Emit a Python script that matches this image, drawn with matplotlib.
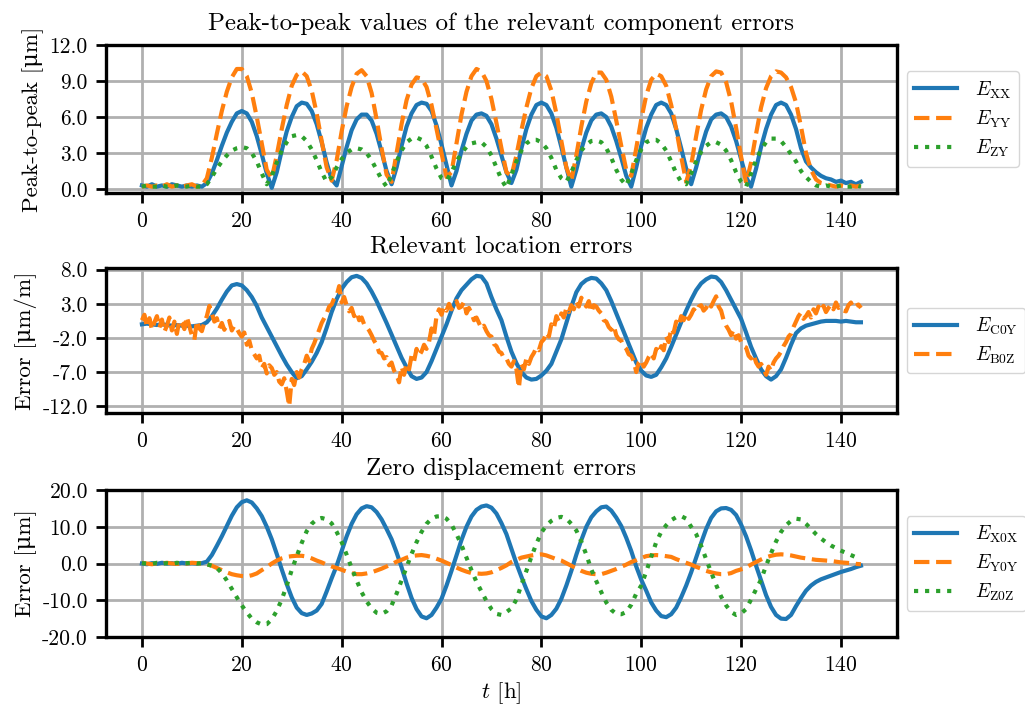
import numpy as np
import matplotlib
matplotlib.use("Agg")
import matplotlib.pyplot as plt
from matplotlib.ticker import FormatStrFormatter

# ---------------- data (hourly samples, t = 0 .. 144 h) ----------------
E_XX = [
    0.3,0.2,0.4,0.2,0.3,0.2,0.4,0.3,0.2,0.3,0.2,0.3,
    0.2,0.5,1.3,2.4,3.6,4.7,5.6,6.3,6.5,6.3,5.6,4.4,
    2.9,1.3,0.1,1.4,3.2,4.8,6.0,6.9,7.2,7.1,6.5,5.4,
    3.9,2.2,0.8,0.3,1.9,3.5,4.9,5.8,6.2,6.2,5.7,4.6,
    3.1,1.5,0.4,1.8,3.6,5.2,6.3,7.0,7.2,7.1,6.5,5.3,
    3.7,2.0,0.3,1.5,3.2,4.6,5.7,6.2,6.3,6.1,5.4,4.2,
    2.8,1.4,0.5,1.6,3.4,5.0,6.2,7.0,7.2,7.0,6.3,5.1,
    3.5,1.8,0.2,1.6,3.3,4.7,5.7,6.2,6.3,6.0,5.2,4.0,
    2.6,1.1,0.2,1.8,3.6,5.1,6.2,7.0,7.2,7.0,6.3,5.0,
    3.4,1.7,0.4,1.8,3.4,4.8,5.8,6.2,6.3,6.0,5.2,4.0,
    2.5,1.0,0.2,1.7,3.5,5.0,6.2,7.0,7.2,7.0,6.2,5.0,
    3.4,2.3,1.8,1.4,1.1,0.9,0.8,0.6,0.7,0.5,0.6,0.4,
    0.6]
E_YY = [
    0.2,0.3,0.2,0.3,0.2,0.4,0.2,0.3,0.2,0.3,0.4,0.2,
    0.3,0.9,2.6,4.6,6.5,8.1,9.3,10.0,10.0,9.4,8.0,6.0,
    3.8,1.6,0.9,2.8,5.0,7.0,8.6,9.5,9.8,9.4,8.2,6.3,
    4.0,1.8,0.7,2.4,4.8,6.9,8.5,9.6,9.9,9.4,8.0,5.8,
    3.4,1.2,0.6,3.0,5.4,7.4,8.7,9.3,9.2,8.5,7.0,5.0,
    3.0,1.0,1.4,3.8,6.2,8.1,9.4,10.0,9.8,9.0,7.5,5.5,
    3.4,1.4,1.1,2.8,4.9,6.8,8.4,9.4,9.7,9.4,8.2,6.3,
    4.0,1.8,0.7,2.8,5.2,7.3,8.8,9.7,9.7,9.1,7.7,5.7,
    3.6,1.6,1.1,3.4,5.8,7.8,9.1,9.6,9.4,8.6,7.0,5.0,
    2.7,0.6,2.0,4.4,6.6,8.3,9.4,9.8,9.7,8.9,7.3,5.1,
    2.7,0.5,2.2,4.6,6.8,8.4,9.4,9.8,9.7,9.3,8.5,7.2,
    5.2,3.0,1.6,0.8,0.5,0.4,0.3,0.2,0.3,0.2,0.3,0.2,
    0.3]
E_ZY = [
    0.2,0.3,0.2,0.2,0.3,0.2,0.2,0.3,0.2,0.2,0.3,0.2,
    0.2,0.4,1.0,1.7,2.3,2.8,3.2,3.4,3.5,3.4,3.0,2.3,
    1.3,0.4,1.1,2.2,3.2,3.9,4.4,4.5,4.4,4.0,3.3,2.4,
    1.4,0.6,1.0,1.8,2.5,3.0,3.3,3.4,3.3,3.0,2.4,1.6,
    0.8,0.2,1.2,2.3,3.2,3.9,4.2,4.3,4.1,3.6,2.7,1.7,
    0.9,0.7,1.4,2.3,3.0,3.5,3.8,3.9,3.9,3.5,2.8,1.8,
    0.8,0.1,1.2,2.3,3.2,3.8,4.1,4.1,3.9,3.4,2.6,1.6,
    0.9,0.6,1.4,2.4,3.2,3.7,4.0,4.05,3.9,3.4,2.6,1.6,
    0.8,0.3,1.3,2.4,3.3,3.9,4.1,4.1,3.8,3.2,2.3,1.3,
    0.6,0.4,1.3,2.3,3.1,3.6,3.9,3.9,3.7,3.2,2.4,1.4,
    0.6,0.2,1.3,2.4,3.3,3.9,4.2,4.2,4.0,3.5,2.9,2.3,
    1.5,1.0,0.6,0.3,0.2,0.3,0.2,0.2,0.3,0.2,0.2,0.3,
    0.2]

E_C0Y = [
    0.0,0.1,0.0,-0.1,0.0,-0.1,-0.2,-0.1,-0.2,-0.2,-0.3,-0.2,
    -0.1,0.3,1.2,2.3,3.6,4.8,5.7,5.9,5.7,5.0,4.0,2.7,
    1.0,-0.4,-1.8,-3.2,-4.6,-5.9,-7.0,-7.9,-7.6,-6.6,-5.5,-4.2,
    -2.6,-0.5,1.8,3.7,5.2,6.2,6.9,7.1,6.8,6.0,4.8,3.4,
    1.8,0.2,-1.5,-3.2,-4.9,-6.3,-7.6,-8.0,-7.8,-7.0,-5.4,-3.6,
    -1.8,0.0,2.0,3.8,5.0,5.8,6.6,7.1,7.0,6.0,4.0,2.2,
    0.6,-1.8,-4.0,-5.7,-7.0,-7.8,-8.1,-8.0,-7.5,-6.8,-5.8,-4.0,
    -2.2,0.2,2.6,4.7,5.9,6.5,6.8,6.7,6.0,5.0,3.4,1.6,
    -0.2,-2.0,-3.8,-5.6,-6.8,-7.5,-7.7,-7.4,-6.3,-5.0,-3.3,-1.5,
    0.3,2.0,3.6,5.0,6.0,6.6,7.0,6.9,6.2,5.0,3.6,2.2,
    0.8,-1.2,-3.3,-5.0,-6.6,-7.6,-8.1,-7.6,-6.6,-4.9,-3.0,-1.3,
    -0.6,-0.2,0.0,0.2,0.4,0.5,0.5,0.5,0.4,0.5,0.4,0.3,
    0.3]
# half-hourly samples, t = 0 .. 144 h
E_B0Z = [
    0.6,1.4,-0.4,0.9,-0.8,0.3,1.2,-0.5,0.7,-1.1,-0.2,1.0,-0.9,0.4,-1.4,0.6,0.2,-0.7,1.1,-0.3,-1.6,-2.3,0.5,-0.6,
    -1.0,0.3,1.2,2.7,1.6,0.4,0.9,-0.6,0.2,-0.8,-0.1,0.5,-0.9,-0.2,-0.6,-1.3,-1.8,-1.2,-3.0,-2.4,-3.8,-4.4,-5.0,-4.6,
    -6.4,-5.8,-7.2,-6.0,-6.4,-7.4,-7.0,-8.4,-8.8,-7.9,-9.8,-12.0,-8.0,-8.9,-7.0,-7.8,-6.6,-5.8,-4.6,-5.4,-3.6,-2.8,-1.8,-0.8,
    0.2,0.9,1.6,2.6,2.9,3.8,4.2,5.6,3.2,4.0,2.8,1.9,2.4,1.2,1.8,0.6,1.0,0.0,-0.4,-0.9,-1.6,-2.4,-3.0,-4.1,
    -4.2,-5.0,-4.8,-6.0,-5.6,-6.8,-7.4,-8.5,-6.2,-7.4,-5.8,-6.6,-4.6,-5.4,-3.6,-4.6,-4.0,-3.0,-3.6,-2.6,-0.6,-1.6,1.2,2.2,
    1.4,2.6,2.0,3.0,2.2,2.9,3.4,2.4,2.6,3.3,1.6,2.4,1.6,0.6,1.0,0.2,-0.6,-0.2,-1.0,-1.6,-1.8,-2.9,-3.2,-4.0,
    -4.2,-5.0,-5.0,-5.8,-6.2,-5.4,-6.6,-9.3,-5.8,-6.6,-5.0,-5.8,-4.8,-4.2,-3.4,-3.8,-2.6,-2.2,-1.2,-1.8,0.0,-0.6,1.2,0.4,
    1.6,1.0,2.4,1.8,2.8,2.2,3.4,2.6,3.9,3.2,2.6,3.4,1.8,2.8,2.6,2.0,1.6,0.6,0.4,-0.4,-0.8,-0.2,-1.6,-2.2,
    -2.4,-3.2,-3.6,-4.4,-4.6,-5.4,-7.0,-5.6,-5.2,-6.2,-5.6,-4.8,-4.2,-5.0,-3.6,-4.2,-3.2,-3.8,-1.8,-2.6,-0.6,-1.2,0.4,-0.2,
    1.2,0.6,1.6,0.8,1.4,2.2,1.8,2.6,2.8,2.0,2.4,3.2,2.6,3.4,4.1,2.6,2.0,0.6,-0.2,-0.8,-1.6,-0.8,-2.1,-1.6,
    -2.6,-3.2,-3.4,-4.6,-5.0,-4.4,-5.6,-6.2,-5.8,-6.4,-7.4,-6.2,-6.8,-5.6,-5.0,-4.6,-4.0,-3.2,-2.6,-1.8,-1.4,-0.4,0.4,1.2,
    1.7,0.8,1.2,1.8,1.0,2.2,1.6,2.6,2.0,2.7,1.8,2.4,2.9,2.2,3.2,2.4,2.6,2.0,1.9,2.8,3.2,2.4,2.7,2.9,
    2.4]

E_X0X = [
    0.0,-0.2,0.1,-0.1,0.2,0.0,0.1,-0.1,0.2,0.0,0.1,0.0,
    0.1,0.5,2.3,4.8,7.4,10.2,13.0,15.3,16.7,17.2,16.6,15.0,
    12.9,10.0,6.6,2.6,-1.6,-5.6,-9.2,-12.0,-13.5,-14.0,-13.6,-12.8,
    -11.0,-7.6,-4.0,-0.6,3.4,7.4,10.8,13.4,15.0,15.6,15.3,14.0,
    12.0,9.4,6.6,3.0,-1.0,-5.4,-9.4,-12.4,-14.4,-14.9,-14.0,-12.0,
    -9.6,-6.0,-2.0,2.2,6.4,10.0,12.8,14.6,15.5,15.8,15.2,13.6,
    11.0,8.0,4.0,0.0,-3.6,-7.0,-10.2,-12.6,-14.4,-14.9,-14.0,-12.3,
    -9.6,-6.0,-2.0,2.4,6.4,10.0,12.6,14.2,15.3,15.5,14.4,12.5,
    10.2,7.0,3.4,-0.8,-4.4,-7.4,-10.6,-12.8,-14.3,-14.6,-13.8,-12.0,
    -9.2,-6.0,-2.4,1.6,5.6,9.4,12.4,14.2,15.0,15.1,14.6,13.2,
    10.6,7.4,3.6,-0.6,-4.6,-8.6,-11.8,-14.0,-15.0,-15.1,-14.0,-11.6,
    -9.4,-7.4,-6.0,-5.0,-4.3,-3.8,-3.3,-2.8,-2.3,-1.9,-1.5,-1.0,
    -0.6]
E_Y0Y = [
    0.2,0.0,-0.2,0.1,0.0,0.2,0.0,-0.1,0.1,0.0,0.2,0.1,
    0.0,-0.2,-0.6,-1.2,-1.8,-2.4,-2.9,-3.2,-3.4,-3.5,-3.2,-2.7,
    -1.8,-1.0,0.0,0.8,1.4,1.8,2.0,2.1,2.1,1.9,1.4,0.8,
    0.3,-0.3,-0.8,-1.2,-1.7,-2.2,-2.6,-2.9,-2.9,-2.7,-2.4,-1.9,
    -1.4,-0.8,-0.2,0.5,1.0,1.6,2.0,2.2,2.3,2.1,1.8,1.3,
    0.8,0.2,-0.4,-1.1,-1.7,-2.2,-2.6,-2.7,-2.8,-2.7,-2.4,-1.8,
    -1.2,-0.5,0.4,1.0,1.6,1.9,2.2,2.4,2.5,2.2,1.7,1.2,
    0.8,0.1,-0.6,-1.3,-2.0,-2.5,-2.8,-2.9,-2.9,-2.5,-2.0,-1.5,
    -0.9,-0.3,0.4,0.9,1.5,2.0,2.2,2.3,2.2,2.0,1.8,1.2,
    0.7,0.2,-0.3,-0.9,-1.4,-2.0,-2.4,-2.7,-2.9,-2.9,-2.6,-2.0,
    -1.6,-1.1,-0.3,0.4,1.1,1.7,2.1,2.4,2.5,2.4,2.2,1.9,
    1.6,1.4,1.2,1.0,0.9,0.8,0.7,0.5,0.3,0.2,0.1,-0.1,
    -0.2]
E_Z0Z = [
    0.1,0.0,-0.1,0.2,0.0,0.1,-0.1,0.2,0.0,0.1,0.2,0.0,
    0.1,-0.2,-0.6,-1.2,-2.6,-4.6,-6.9,-9.2,-11.4,-13.3,-15.0,-16.0,
    -16.6,-16.5,-15.2,-12.9,-9.8,-6.0,-1.8,2.0,5.6,8.8,10.8,12.0,
    12.4,12.0,10.9,8.6,5.8,2.4,-1.2,-4.6,-7.8,-10.3,-12.2,-13.4,
    -13.7,-13.0,-11.4,-8.2,-4.6,-1.0,2.6,5.8,8.6,10.8,12.2,12.8,
    12.9,12.2,10.6,8.0,5.0,1.6,-1.8,-5.0,-7.6,-10.2,-12.4,-13.7,
    -14.0,-13.2,-12.2,-9.8,-5.8,-2.0,1.8,5.4,8.4,10.4,11.6,12.4,
    12.7,12.2,10.8,9.0,6.0,2.4,-1.6,-4.8,-7.8,-10.6,-12.6,-13.7,
    -13.8,-13.2,-11.2,-8.2,-6.0,-2.2,1.8,5.8,8.6,10.4,11.8,12.6,
    12.9,12.2,10.0,8.0,4.8,1.2,-2.4,-5.8,-9.0,-11.4,-13.2,-14.0,
    -13.6,-12.4,-9.8,-7.0,-4.4,-0.6,2.8,6.0,8.6,10.4,11.6,12.2,
    12.0,10.8,9.4,8.0,6.8,5.8,4.9,4.2,3.5,2.9,2.3,1.7,
    1.3]

titles = ["Peak-to-peak values of the relevant component errors",
          "Relevant location errors",
          "Zero displacement errors"]
ylabels = ["Peak-to-peak [\u03bcm]", "Error [\u03bcm/m]", "Error [\u03bcm]"]
yticks = [[0, 3, 6, 9, 12], [-12, -7, -2, 3, 8], [-20, -10, 0, 10, 20]]
ylims = [(-0.33, 12.0), (-13.0, 8.25), (-20.0, 20.0)]
xticks = [0, 20, 40, 60, 80, 100, 120, 140]

# ---------------- style ----------------
plt.rcParams['font.family'] = ['cmr10', 'DejaVu Serif']
plt.rcParams['mathtext.fontset'] = 'cm'
plt.rcParams['axes.unicode_minus'] = False
plt.rcParams['axes.formatter.use_mathtext'] = True

colors = ['#1f77b4', '#ff7f0e', '#2ca02c']
styles = ['-', '--', ':']
LW = 3.0

fig = plt.figure(figsize=(10.25, 7.07), dpi=100)
boxes = [(0.1034, 0.727, 0.7716, 0.2094),
         (0.1034, 0.4158, 0.7716, 0.2051),
         (0.1034, 0.099, 0.7716, 0.2079)]
axes = [fig.add_axes(b) for b in boxes]

panels = [
    [(E_XX, r'$E_\mathrm{XX}$'), (E_YY, r'$E_\mathrm{YY}$'), (E_ZY, r'$E_\mathrm{ZY}$')],
    [(E_C0Y, r'$E_\mathrm{C0Y}$'), (E_B0Z, r'$E_\mathrm{B0Z}$')],
    [(E_X0X, r'$E_\mathrm{X0X}$'), (E_Y0Y, r'$E_\mathrm{Y0Y}$'), (E_Z0Z, r'$E_\mathrm{Z0Z}$')],
]
steps = [[1.0, 1.0, 1.0], [1.0, 0.5], [1.0, 1.0, 1.0]]

for i, ax in enumerate(axes):
    for j, (vals, lab) in enumerate(panels[i]):
        t = np.arange(len(vals)) * steps[i][j]
        ax.plot(t, vals, color=colors[j], ls=styles[j], lw=LW, label=lab)
    ax.set_title(titles[i], fontsize=18, pad=11)
    ax.set_ylabel(ylabels[i], fontsize=16.5)
    ax.set_yticks(yticks[i])
    ax.set_ylim(*ylims[i])
    ax.set_xticks(xticks)
    ax.yaxis.set_major_formatter(FormatStrFormatter('%.1f'))
    ax.tick_params(labelsize=15.5, width=2.0, length=7, pad=6)
    ax.grid(True, color='#b0b0b0', lw=2.0)
    for s in ax.spines.values():
        s.set_linewidth(2.4)
    ax.legend(loc='center left', bbox_to_anchor=(1.0, 0.5), fontsize=14,
              handlelength=2.2, handletextpad=0.9, labelspacing=0.4,
              frameon=True)

axes[2].set_xlabel(r'$t$ [h]', fontsize=16.5)

fig.savefig('out.png', dpi=100)
